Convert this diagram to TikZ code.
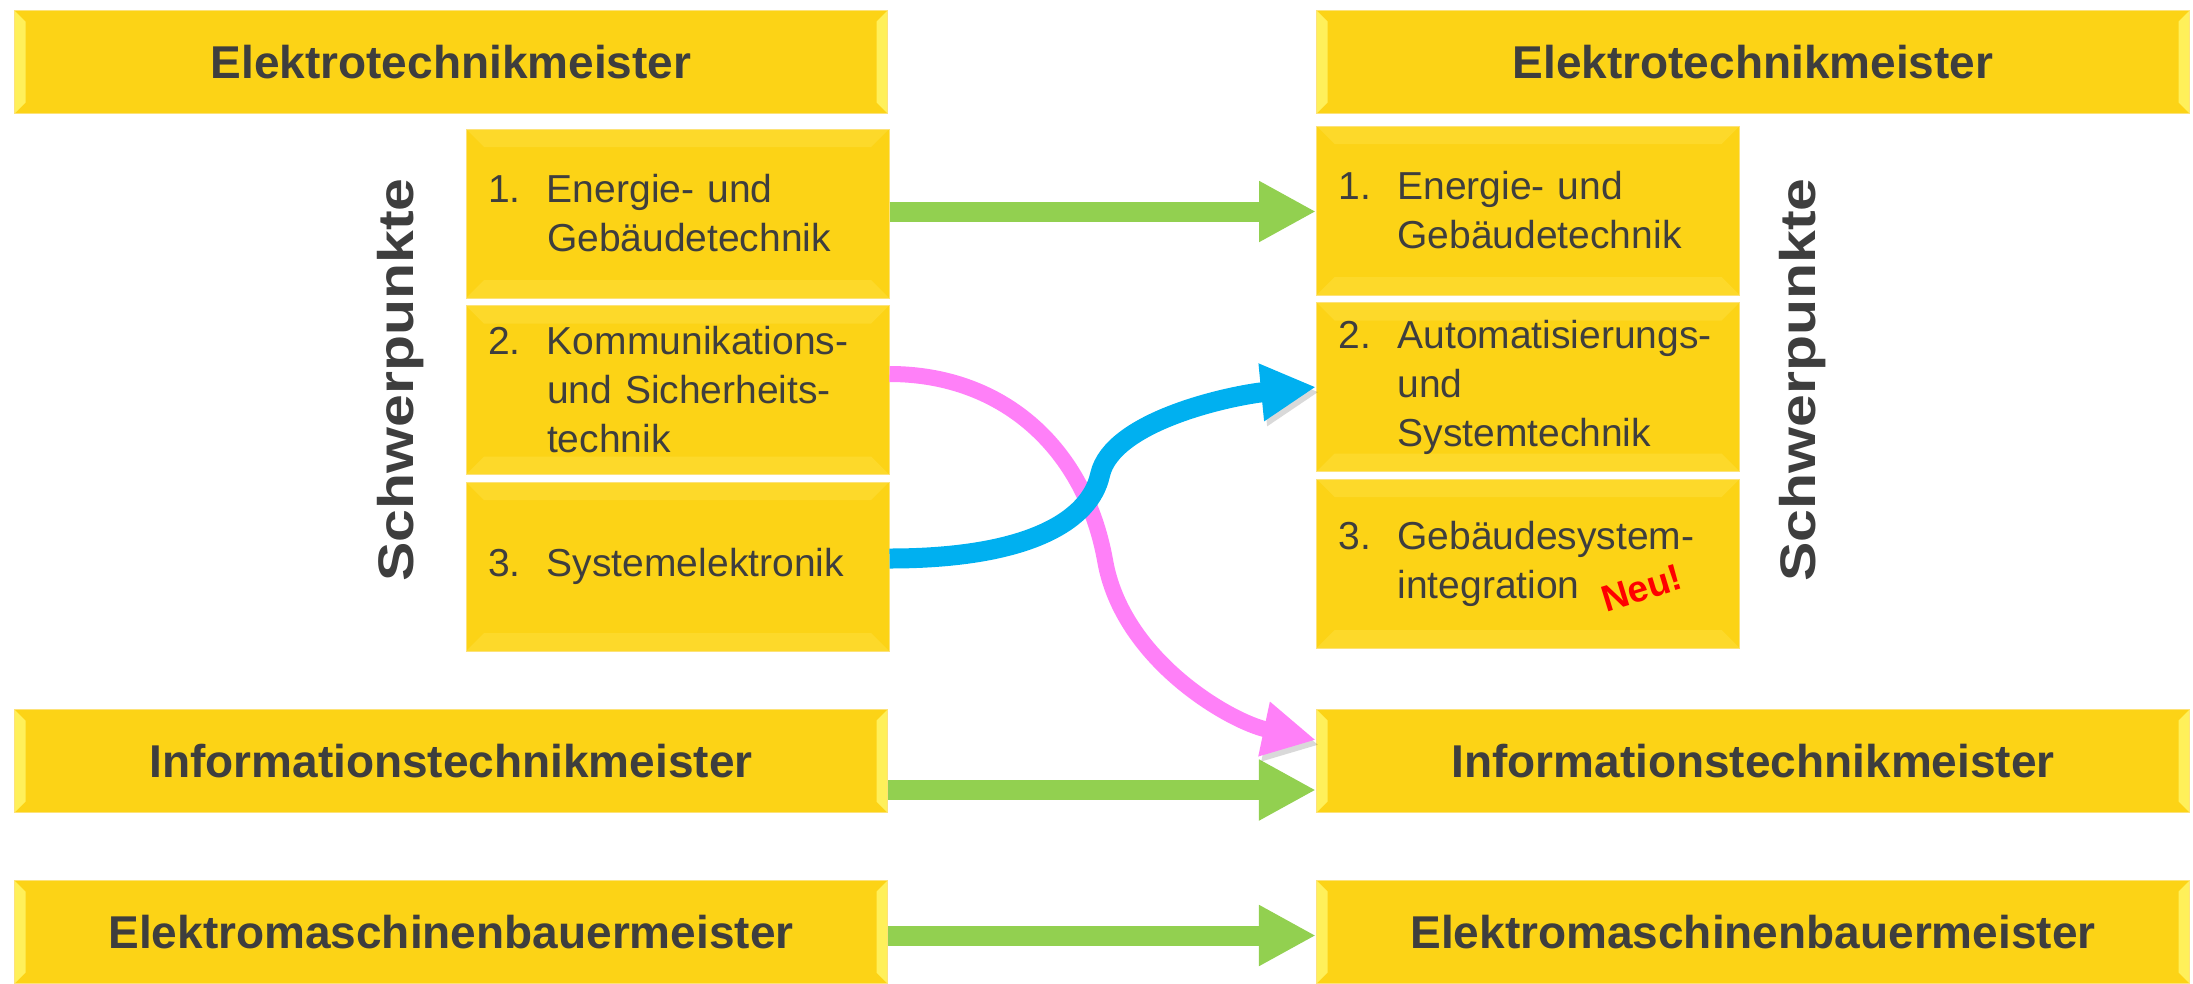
\documentclass[tikz,border=0pt]{standalone}
\usepackage{fontspec}
\setmainfont{Liberation Sans}
\usetikzlibrary{arrows.meta}
\definecolor{boxy}{RGB}{252,211,22}
\definecolor{bevlight}{RGB}{255,240,90}
\definecolor{bevsoft}{RGB}{253,217,42}
\definecolor{boxrim}{RGB}{253,226,120}
\definecolor{txt}{RGB}{62,62,62}
\definecolor{arrgreen}{RGB}{146,208,80}
\definecolor{arrpink}{RGB}{255,128,248}
\definecolor{arrblue}{RGB}{0,176,240}
\newcommand\itm[2]{\makebox[59pt][l]{#1}#2}
\newcommand\ind{\hspace*{59pt}}
\newcommand\neumark{\smash{\raisebox{-14pt}{\rotatebox{17}{\fontsize{37}{40}\selectfont\bfseries\color{red}Neu!}}}}
\begin{document}
\begin{tikzpicture}[x=1pt,y=-1pt,
  wide/.style={rectangle, inner sep=0pt, minimum width=873pt, minimum height=103pt,
    fill=boxy, draw=boxrim, line width=1.2pt, text=txt,
    font=\fontsize{46}{50}\selectfont\bfseries,
    path picture={
      \fill[bevlight] (path picture bounding box.north west) -- ([shift={(11pt,-11pt)}]path picture bounding box.north west)
        -- ([shift={(11pt,11pt)}]path picture bounding box.south west) -- (path picture bounding box.south west) -- cycle;
      \fill[bevlight] (path picture bounding box.north east) -- ([shift={(-11pt,-11pt)}]path picture bounding box.north east)
        -- ([shift={(-11pt,11pt)}]path picture bounding box.south east) -- (path picture bounding box.south east) -- cycle;
    }},
  sub/.style={rectangle, inner xsep=22pt, inner ysep=0pt, minimum width=423pt, minimum height=169pt,
    text width=379pt, align=left, fill=boxy, draw=boxrim, line width=1pt, text=txt,
    font=\fontsize{39}{49}\selectfont,
    path picture={
      \fill[bevsoft] (path picture bounding box.north west) -- (path picture bounding box.north east)
        -- ([shift={(-18pt,-18pt)}]path picture bounding box.north east) -- ([shift={(18pt,-18pt)}]path picture bounding box.north west) -- cycle;
      \fill[bevsoft] (path picture bounding box.south west) -- (path picture bounding box.south east)
        -- ([shift={(-18pt,18pt)}]path picture bounding box.south east) -- ([shift={(18pt,18pt)}]path picture bounding box.south west) -- cycle;
    }},
  schw/.style={rotate=90, xscale=1.18, inner sep=0pt, text=txt, font=\fontsize{50}{55}\selectfont\bfseries},
  garrow/.style={draw=arrgreen, line width=20pt, -{Triangle[length=57pt,width=57pt]}},
  parrow/.style={draw=arrpink, line width=16pt, -{Triangle[length=53pt,width=52pt]},
    preaction={draw=black, draw opacity=0.15, transform canvas={xshift=3pt,yshift=-5pt}}},
  barrow/.style={draw=arrblue, line width=20pt, -{Triangle[length=55pt,width=54pt]},
    preaction={draw=black, draw opacity=0.15, transform canvas={xshift=3pt,yshift=-5pt}}}
]
\useasboundingbox (0,0) rectangle (2193,983);

% wide boxes
\node[wide] (Lt) at (451,62) {Elektrotechnikmeister};
\node[wide] (Rt) at (1753,62) {Elektrotechnikmeister};
\node[wide] (Li) at (451,761) {Informationstechnikmeister};
\node[wide] (Ri) at (1753,761) {Informationstechnikmeister};
\node[wide] (Lb) at (451,932) {Elektromaschinenbauermeister};
\node[wide] (Rb) at (1753,932) {Elektromaschinenbauermeister};

% left sub boxes
\node[sub] (L1) at (677.5,213.5) {\itm{1.}{Energie- und}\\\ind Gebäudetechnik};
\node[sub] (L2) at (677.5,390) {\itm{2.}{Kommunikations-}\\\ind und Sicherheits-\\\ind technik};
\node[sub] (L3) at (677.5,566.5) {\itm{3.}{Systemelektronik}};

% right sub boxes
\node[sub] (R1) at (1528,210.5) {\itm{1.}{Energie- und}\\\ind Gebäudetechnik};
\node[sub] (R2) at (1528,387) {\itm{2.}{Automatisierungs-}\\\ind und\\\ind Systemtechnik};
\node[sub] (R3) at (1528,563.5) {\itm{3.}{Gebäudesystem-}\\\ind integration\hspace{19pt}\neumark};

% Schwerpunkte labels
\node[schw] (sL) at (401,380) {Schwerpunkte};
\node[schw] (sR) at (1803,380) {Schwerpunkte};

% green arrows
\draw[garrow] ([yshift=2pt]L1.east) -- ([yshift=2pt]L1.east -| R1.west);
\draw[garrow] ([yshift=-29pt]Li.east) -- ([yshift=-29pt]Ri.west);
\draw[garrow] ([yshift=-3.5pt]Lb.east) -- ([yshift=-3.5pt]Rb.west);

% curved arrows
\coordinate (pmid) at (1105,560);
\coordinate (bmid) at (1100,475);
\draw[parrow] ([yshift=16pt]L2.east) .. controls +(115,0) and +(-20,-110) .. (pmid)
   .. controls +(17,100) and +(-85,-18) .. ([yshift=21pt]Ri.west);
\draw[barrow] ([yshift=8pt]L3.east) .. controls +(140,0) and +(-10,45) .. (bmid)
   .. controls +(12,-55) and +(-82,8) .. (R2.west);
\end{tikzpicture}
\end{document}
